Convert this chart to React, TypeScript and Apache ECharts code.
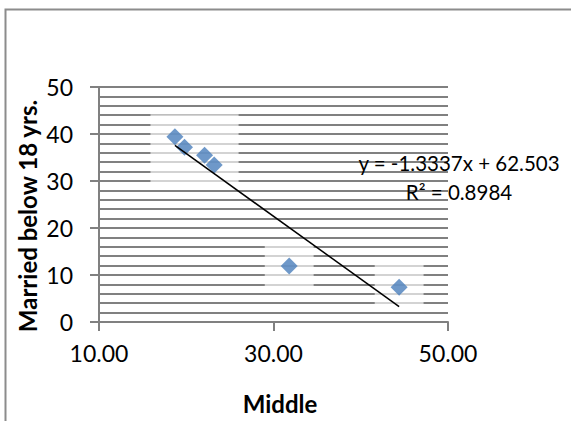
import React, { useEffect, useRef } from "react";
import * as echarts from "echarts";

// Middle-class share (x) vs. share married below 18 years (y)
const middleShare = [18.7, 19.8, 22.1, 23.2, 31.8, 44.4];
const marriedBelow18 = [39.4, 37.2, 35.5, 33.4, 11.9, 7.4];

// Linear trend line reported for the data
const trendSlope = -1.3337;
const trendIntercept = 62.503;
const trendR2 = 0.8984;

const xAxisTitle = "Middle";
const yAxisTitle = "Married below 18 yrs.";

const FONT = "Lato, 'Open Sans', sans-serif";
const GRID_GRAY = "#808080";

function fmtSigned(v: number, digits: number) {
  return v < 0 ? `-${Math.abs(v).toFixed(digits)}` : v.toFixed(digits);
}

// light backing panels behind the markers, grouped where they overlap
function markerPanels(padX: number, padY: number) {
  const pts = middleShare
    .map((x, i) => [x, marriedBelow18[i]])
    .sort((a, b) => a[0] - b[0]);
  const groups: number[][][] = [];
  for (const p of pts) {
    const last = groups[groups.length - 1];
    if (last && p[0] - padX <= last[last.length - 1][0] + padX) last.push(p);
    else groups.push([p]);
  }
  return groups.map((g) => {
    const xs = g.map((p) => p[0]);
    const ys = g.map((p) => p[1]);
    return [
      { coord: [Math.min(...xs) - padX, Math.max(...ys) + padY] },
      { coord: [Math.max(...xs) + padX, Math.min(...ys) - padY] },
    ];
  });
}

export default function App() {
  const ref = useRef<HTMLDivElement>(null);

  useEffect(() => {
    if (!ref.current) return;
    const chart = echarts.init(ref.current, undefined, { renderer: "svg" });

    const points = middleShare.map((x, i) => [x, marriedBelow18[i]]);
    const xMin = Math.min(...middleShare);
    const xMax = Math.max(...middleShare);
    const trend = [xMin, xMax].map((x) => [x, trendSlope * x + trendIntercept]);

    chart.setOption({
      animation: false,
      backgroundColor: "#ffffff",
      grid: { left: 99, right: 123, top: 87, bottom: 99, containLabel: false },
      xAxis: {
        type: "value",
        min: 10,
        max: 50,
        interval: 20,
        axisLine: { show: true, onZero: false, lineStyle: { color: GRID_GRAY, width: 2 } },
        axisTick: { show: true, length: 9, lineStyle: { color: GRID_GRAY, width: 2 } },
        axisLabel: {
          margin: 19,
          color: "#000",
          fontSize: 23,
          fontFamily: FONT,
          formatter: (v: number) => v.toFixed(2),
        },
        splitLine: { show: false },
      },
      yAxis: {
        type: "value",
        min: 0,
        max: 50,
        interval: 10,
        axisLine: { show: true, lineStyle: { color: GRID_GRAY, width: 2 } },
        axisTick: { show: true, length: 9, lineStyle: { color: GRID_GRAY, width: 2 } },
        axisLabel: { margin: 26, color: "#000", fontSize: 23, fontFamily: FONT },
        splitLine: { show: true, lineStyle: { color: GRID_GRAY, width: 2.2 } },
        minorTick: { show: false, splitNumber: 5 },
        minorSplitLine: { show: true, lineStyle: { color: GRID_GRAY, width: 2 } },
      },
      series: [
        {
          type: "scatter",
          data: points,
          symbol: "diamond",
          symbolSize: 17,
          itemStyle: { color: "#4a7ebb" },
          z: 3,
          markArea: {
            silent: true,
            itemStyle: { color: "rgba(255,255,255,0.65)" },
            data: markerPanels(2.8, 4.8),
          },
        },
        {
          type: "line",
          data: trend,
          symbol: "none",
          lineStyle: { color: "#000", width: 1.5 },
          z: 4,
        },
      ],
      graphic: [
        {
          type: "rect",
          shape: { x: 5.5, y: 9.5, width: 700, height: 600 },
          style: { fill: "none", stroke: "#8c8c8c", lineWidth: 2 },
          silent: true,
        },
        {
          type: "text",
          x: 459,
          y: 163,
          style: {
            text: `y = ${fmtSigned(trendSlope, 4)}x + ${trendIntercept.toFixed(3)}`,
            fontSize: 20.5,
            fontFamily: FONT,
            fill: "#000",
            textAlign: "center",
            textVerticalAlign: "middle",
          },
          z: 10,
        },
        {
          type: "text",
          x: 459,
          y: 192,
          style: {
            text: `R² = ${trendR2.toFixed(4)}`,
            fontSize: 20.5,
            fontFamily: FONT,
            fill: "#000",
            textAlign: "center",
            textVerticalAlign: "middle",
          },
          z: 10,
        },
        {
          type: "text",
          x: 280,
          y: 403,
          style: {
            text: xAxisTitle,
            fontSize: 24,
            fontWeight: "bold",
            fontFamily: FONT,
            fill: "#000",
            textAlign: "center",
            textVerticalAlign: "middle",
          },
        },
        {
          type: "text",
          x: 27,
          y: 216,
          rotation: Math.PI / 2,
          style: {
            text: yAxisTitle,
            fontSize: 24,
            fontWeight: "bold",
            fontFamily: FONT,
            fill: "#000",
            textAlign: "center",
            textVerticalAlign: "middle",
          },
        },
      ],
    });

    return () => chart.dispose();
  }, []);

  return (
    <div
      ref={ref}
      style={{ position: "fixed", left: 0, top: 0, width: 571, height: 421 }}
    />
  );
}
